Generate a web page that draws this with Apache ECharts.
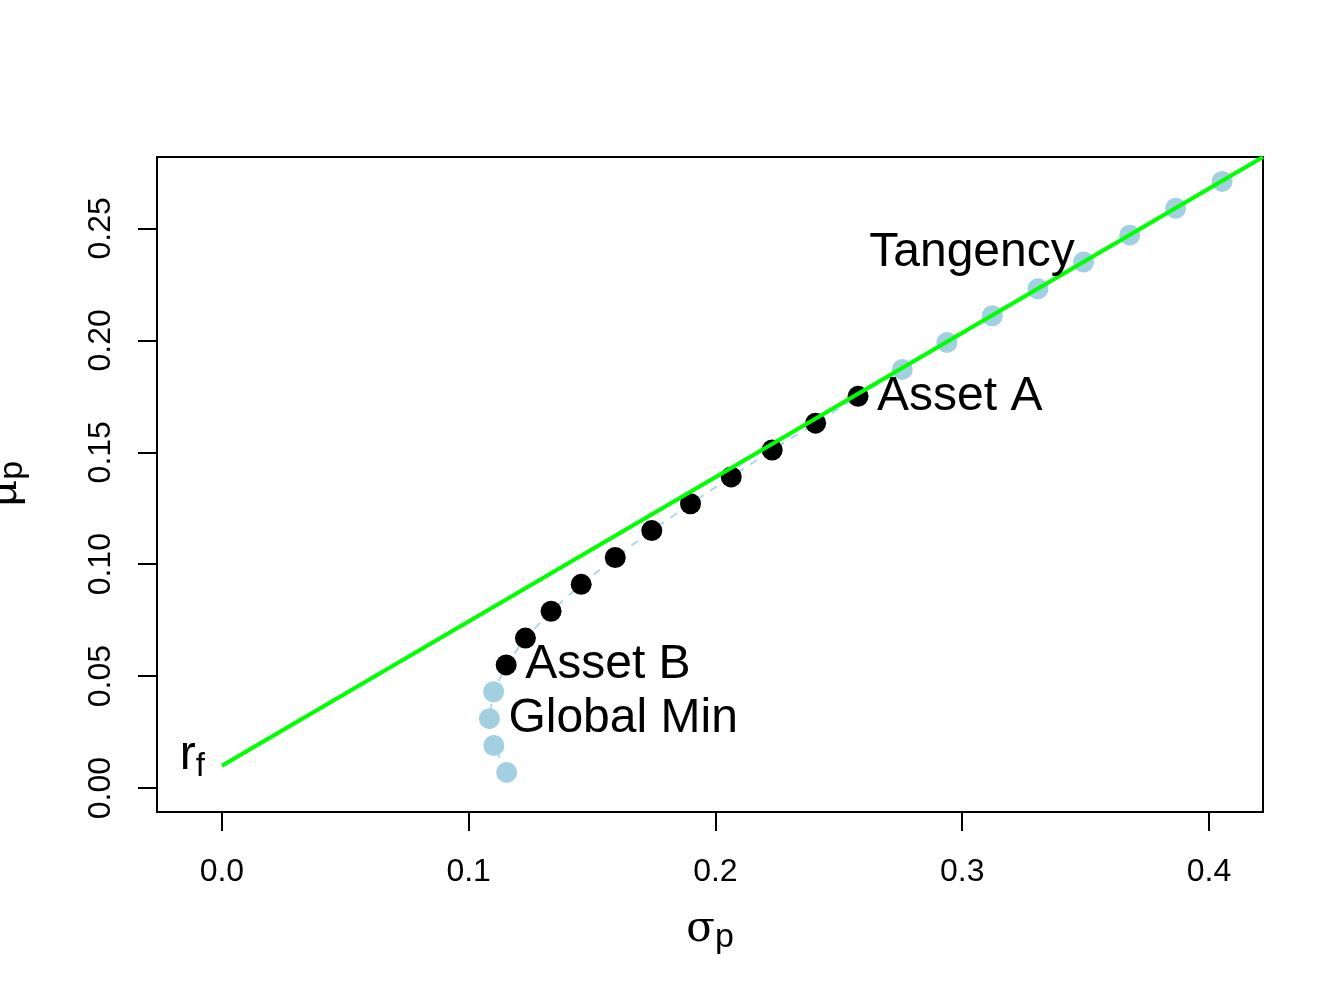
<!DOCTYPE html>
<html>
<head>
<meta charset="utf-8">
<title>Efficient frontier</title>
<script src="https://cdn.jsdelivr.net/npm/echarts@6.0.0/dist/echarts.min.js"></script>
<style>
  html, body { margin: 0; padding: 0; background: #fff; }
  #main { width: 1344px; height: 1008px; }
</style>
</head>
<body>
<div id="main"></div>
<script>
// portfolio frontier: sigma_p and mu_p
var frontierSigma = [0.1154, 0.1102, 0.1084, 0.1101, 0.1152, 0.1230, 0.1334, 0.1456, 0.1594, 0.1742,
  0.1899, 0.2064, 0.2230, 0.2406, 0.2578, 0.2757, 0.2938, 0.3122, 0.3307, 0.3492, 0.3679, 0.3865, 0.4053];
var frontierMu = [0.007, 0.019, 0.031, 0.043, 0.055, 0.067, 0.079, 0.091, 0.103, 0.115,
  0.127, 0.139, 0.151, 0.163, 0.175, 0.187, 0.199, 0.211, 0.223, 0.235, 0.247, 0.259, 0.271];
// black points run from Asset B to Asset A
var assetBIndex = 4;
var assetAIndex = 14;

// risk free rate and the tangency line (ends at the plot corner)
var cmlSigma = [0, 0.4219];
var cmlMu = [0.010, 0.2819];

// text labels
var labelNames = ['Asset A', 'Asset B', 'Global Min', 'Tangency', 'rf'];
var labelSigma = [0.2578, 0.1152, 0.1084, 0.3456, 0];
var labelMu = [0.175, 0.055, 0.031, 0.2390, 0.010];

var xTicks = [0, 0.1, 0.2, 0.3, 0.4];
var yTicks = [0, 0.05, 0.10, 0.15, 0.20, 0.25];

var chart = echarts.init(document.getElementById('main'));

var bluePts = [], blackPts = [], linePts = [];
for (var i = 0; i < frontierSigma.length; i++) {
  var p = [frontierSigma[i], frontierMu[i]];
  linePts.push(p);
  if (i >= assetBIndex && i <= assetAIndex) blackPts.push(p);
  else bluePts.push(p);
}
var cmlPts = cmlSigma.map(function (s, i) { return [s, cmlMu[i]]; });

var sans = 'Liberation Sans, Arial, Helvetica, sans-serif';
var serif = 'DejaVu Serif, Liberation Serif, serif';

var labelPts = labelNames.map(function (n, i) {
  var item = { name: n, value: [labelSigma[i], labelMu[i]] };
  if (n === 'Tangency') {
    item.label = { position: 'left', distance: 0, offset: [0, 0] };
  } else if (n === 'rf') {
    item.label = {
      position: 'left', distance: 17, offset: [0, -10],
      formatter: '{r|r}{f|f}'
    };
  }
  return item;
});

var option = {
  animation: false,
  backgroundColor: '#fff',
  grid: {
    left: 157, right: 81, top: 157, bottom: 196,
    outerBoundsMode: 'none',
    containLabel: false,
    show: true, borderColor: '#000', borderWidth: 2
  },
  xAxis: {
    type: 'value',
    min: -0.0263, max: 0.4219,
    splitLine: { show: false },
    axisLine: { show: false, onZero: false },
    axisTick: {
      show: true, length: 19, customValues: xTicks,
      lineStyle: { color: '#000', width: 2 }
    },
    axisLabel: {
      customValues: xTicks, margin: 44,
      color: '#000', fontSize: 32, fontFamily: sans,
      formatter: function (v) { return v.toFixed(1); }
    },
    name: '{s|σ}{p|p}',
    nameLocation: 'middle',
    nameGap: 93,
    nameTextStyle: {
      rich: {
        s: { fontFamily: serif, fontSize: 42, lineHeight: 50, color: '#000' },
        p: { fontFamily: sans, fontSize: 34, lineHeight: 31, verticalAlign: 'bottom', color: '#000' }
      }
    }
  },
  yAxis: {
    type: 'value',
    min: -0.0107, max: 0.2819,
    splitLine: { show: false },
    axisLine: { show: false, onZero: false },
    axisTick: {
      show: true, length: 19, customValues: yTicks,
      lineStyle: { color: '#000', width: 2 }
    },
    axisLabel: {
      customValues: yTicks, margin: 40, rotate: 90,
      color: '#000', fontSize: 32, fontFamily: sans,
      formatter: function (v) { return v.toFixed(2); }
    },
    name: '{m|μ}{p|p}',
    nameLocation: 'middle',
    nameRotate: 90,
    nameGap: 127,
    nameTextStyle: {
      rich: {
        m: { fontFamily: serif, fontSize: 44, lineHeight: 50, color: '#000' },
        p: { fontFamily: sans, fontSize: 34, lineHeight: 31, verticalAlign: 'bottom', color: '#000' }
      }
    }
  },
  series: [
    {
      // dashed frontier line under the points
      type: 'line',
      data: linePts,
      symbol: 'none',
      silent: true,
      z: 1,
      lineStyle: { color: '#ADD8E6', width: 2, type: [8, 8] }
    },
    {
      type: 'scatter',
      data: bluePts,
      symbolSize: 21,
      z: 2,
      itemStyle: { color: '#A3D0E1', opacity: 1 }
    },
    {
      type: 'scatter',
      data: blackPts,
      symbolSize: 21,
      z: 3,
      itemStyle: { color: '#000', opacity: 1 }
    },
    {
      type: 'line',
      data: cmlPts,
      symbol: 'none',
      z: 4,
      lineStyle: { color: '#00FF00', width: 4 }
    },
    {
      type: 'scatter',
      data: labelPts,
      symbolSize: 0,
      z: 5,
      silent: true,
      label: {
        show: true,
        position: 'right',
        distance: 19,
        offset: [0, 0],
        color: '#000',
        opacity: 1,
        textBorderWidth: 0,
        formatter: '{t|{b}}',
        rich: {
          t: { fontFamily: sans, fontSize: 48, color: '#000' },
          r: { fontFamily: sans, fontSize: 48, lineHeight: 56, color: '#000' },
          f: { fontFamily: sans, fontSize: 33, lineHeight: 30, verticalAlign: 'bottom', color: '#000' }
        }
      }
    }
  ]
};

chart.setOption(option);
</script>
</body>
</html>
